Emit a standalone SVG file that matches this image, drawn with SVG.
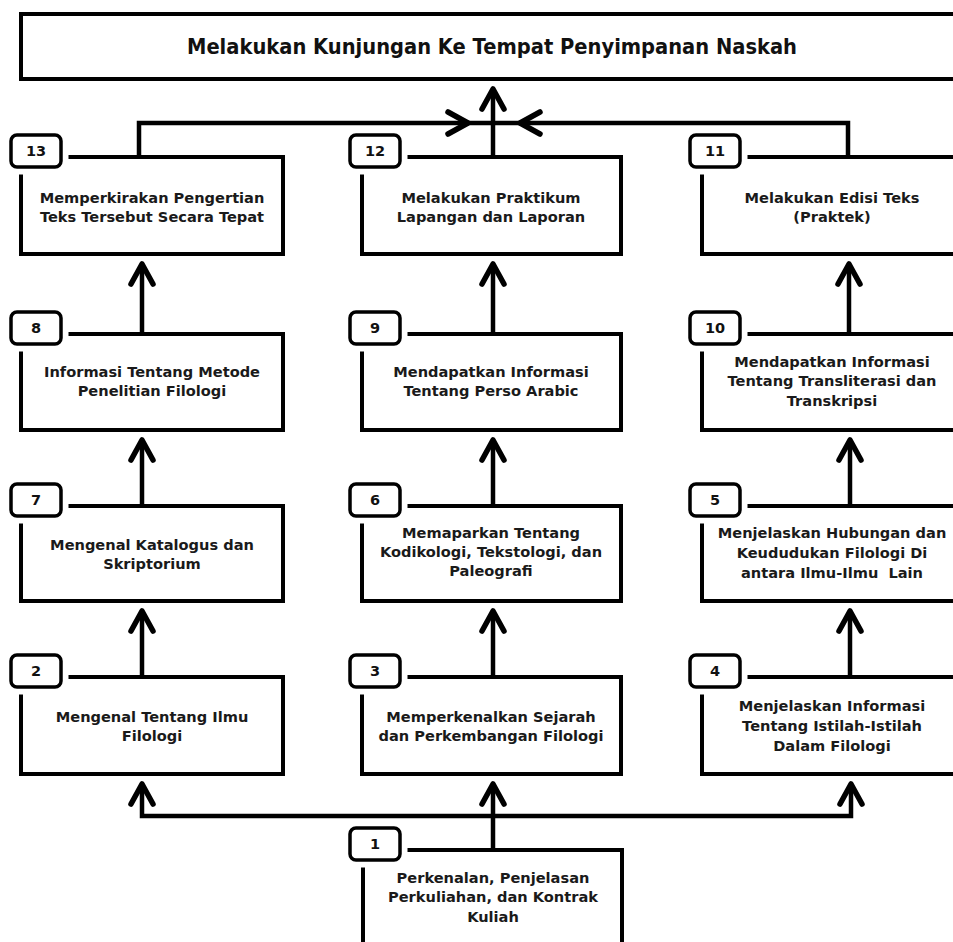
<svg xmlns="http://www.w3.org/2000/svg" width="953" height="942" viewBox="0 0 953 942">
<style>
  .box{fill:#fff;stroke:#000;stroke-width:4}
  .halo{fill:#fff;stroke:#fff;stroke-width:15}
  .badge{fill:#fff;stroke:#000;stroke-width:3.5}
  .t{font-family:"DejaVu Sans",Verdana,sans-serif;font-weight:bold;font-size:14.6px;fill:#1a1a1a;text-anchor:middle;white-space:pre}
  .n{font-family:"DejaVu Sans",Verdana,sans-serif;font-weight:bold;font-size:14.5px;fill:#111;text-anchor:middle}
  .title{font-family:"DejaVu Sans",Verdana,sans-serif;font-weight:bold;font-size:21px;fill:#111;text-anchor:middle}
  .c{fill:none;stroke:#000;stroke-width:4.5}
</style>
<defs>
  <marker id="chev" markerUnits="userSpaceOnUse" viewBox="-26 -15 30 30" markerWidth="30" markerHeight="30" refX="0" refY="0" orient="auto" overflow="visible">
    <path d="M-20,-11 L0,0 L-20,11" fill="none" stroke="#000" stroke-width="5.5" stroke-linecap="round" stroke-linejoin="round"/>
  </marker>
</defs>

<g id="title">
  <rect class="box" x="21" y="14" width="1000" height="65"/>
  <text class="title" x="492" y="54" textLength="610" lengthAdjust="spacingAndGlyphs">Melakukan Kunjungan Ke Tempat Penyimpanan Naskah</text>
</g>

<g id="connectors">
  <path class="c" d="M139,156 V123 H468" marker-end="url(#chev)"/>
  <path class="c" d="M848,156 V123 H520" marker-end="url(#chev)"/>
  <path class="c" d="M468,123 H520"/>
  <path class="c" d="M493,156 V89" marker-end="url(#chev)"/>

  <path class="c" d="M142,333 V264" marker-end="url(#chev)"/>
  <path class="c" d="M493,333 V264" marker-end="url(#chev)"/>
  <path class="c" d="M849,333 V264" marker-end="url(#chev)"/>

  <path class="c" d="M142,505 V440" marker-end="url(#chev)"/>
  <path class="c" d="M493,505 V440" marker-end="url(#chev)"/>
  <path class="c" d="M850,505 V440" marker-end="url(#chev)"/>

  <path class="c" d="M142,676 V611" marker-end="url(#chev)"/>
  <path class="c" d="M493,676 V611" marker-end="url(#chev)"/>
  <path class="c" d="M850,676 V611" marker-end="url(#chev)"/>

  <path class="c" d="M493,816 H142 V784" marker-end="url(#chev)"/>
  <path class="c" d="M493,816 H851 V784" marker-end="url(#chev)"/>
  <path class="c" d="M493,849 V784" marker-end="url(#chev)"/>
</g>

<!-- Row 1 -->
<g id="n13">
  <rect class="box" x="21" y="157" width="262" height="97"/>
  <rect class="halo" x="11" y="135" width="50" height="32" rx="6"/>
  <rect class="badge" x="11" y="135" width="50" height="32" rx="6"/>
  <text class="n" x="36" y="156">13</text>
  <text class="t" x="152" y="203">Memperkirakan Pengertian</text>
  <text class="t" x="152" y="222">Teks Tersebut Secara Tepat</text>
</g>
<g id="n12">
  <rect class="box" x="362" y="157" width="259" height="97"/>
  <rect class="halo" x="350" y="135" width="50" height="32" rx="6"/>
  <rect class="badge" x="350" y="135" width="50" height="32" rx="6"/>
  <text class="n" x="375" y="156">12</text>
  <text class="t" x="491" y="203">Melakukan Praktikum</text>
  <text class="t" x="491" y="222">Lapangan dan Laporan</text>
</g>
<g id="n11">
  <rect class="box" x="702" y="157" width="300" height="97"/>
  <rect class="halo" x="690" y="135" width="50" height="32" rx="6"/>
  <rect class="badge" x="690" y="135" width="50" height="32" rx="6"/>
  <text class="n" x="715" y="156">11</text>
  <text class="t" x="832" y="203">Melakukan Edisi Teks</text>
  <text class="t" x="832" y="222">(Praktek)</text>
</g>

<!-- Row 2 -->
<g id="n8">
  <rect class="box" x="21" y="334" width="262" height="96"/>
  <rect class="halo" x="11" y="312" width="50" height="32" rx="6"/>
  <rect class="badge" x="11" y="312" width="50" height="32" rx="6"/>
  <text class="n" x="36" y="333">8</text>
  <text class="t" x="152" y="377">Informasi Tentang Metode</text>
  <text class="t" x="152" y="396">Penelitian Filologi</text>
</g>
<g id="n9">
  <rect class="box" x="362" y="334" width="259" height="96"/>
  <rect class="halo" x="350" y="312" width="50" height="32" rx="6"/>
  <rect class="badge" x="350" y="312" width="50" height="32" rx="6"/>
  <text class="n" x="375" y="333">9</text>
  <text class="t" x="491" y="377">Mendapatkan Informasi</text>
  <text class="t" x="491" y="396">Tentang Perso Arabic</text>
</g>
<g id="n10">
  <rect class="box" x="702" y="334" width="300" height="96"/>
  <rect class="halo" x="690" y="312" width="50" height="32" rx="6"/>
  <rect class="badge" x="690" y="312" width="50" height="32" rx="6"/>
  <text class="n" x="715" y="333">10</text>
  <text class="t" x="832" y="367">Mendapatkan Informasi</text>
  <text class="t" x="832" y="386">Tentang Transliterasi dan</text>
  <text class="t" x="832" y="406">Transkripsi</text>
</g>

<!-- Row 3 -->
<g id="n7">
  <rect class="box" x="21" y="506" width="262" height="95"/>
  <rect class="halo" x="11" y="484" width="50" height="32" rx="6"/>
  <rect class="badge" x="11" y="484" width="50" height="32" rx="6"/>
  <text class="n" x="36" y="505">7</text>
  <text class="t" x="152" y="550">Mengenal Katalogus dan</text>
  <text class="t" x="152" y="569">Skriptorium</text>
</g>
<g id="n6">
  <rect class="box" x="362" y="506" width="259" height="95"/>
  <rect class="halo" x="350" y="484" width="50" height="32" rx="6"/>
  <rect class="badge" x="350" y="484" width="50" height="32" rx="6"/>
  <text class="n" x="375" y="505">6</text>
  <text class="t" x="491" y="538">Memaparkan Tentang</text>
  <text class="t" x="491" y="557">Kodikologi, Tekstologi, dan</text>
  <text class="t" x="491" y="576">Paleografi</text>
</g>
<g id="n5">
  <rect class="box" x="702" y="506" width="300" height="95"/>
  <rect class="halo" x="690" y="484" width="50" height="32" rx="6"/>
  <rect class="badge" x="690" y="484" width="50" height="32" rx="6"/>
  <text class="n" x="715" y="505">5</text>
  <text class="t" x="832" y="538">Menjelaskan Hubungan dan</text>
  <text class="t" x="832" y="558">Keududukan Filologi Di</text>
  <text class="t" x="832" y="578" xml:space="preserve">antara Ilmu-Ilmu  Lain</text>
</g>

<!-- Row 4 -->
<g id="n2">
  <rect class="box" x="21" y="677" width="262" height="97"/>
  <rect class="halo" x="11" y="655" width="50" height="32" rx="6"/>
  <rect class="badge" x="11" y="655" width="50" height="32" rx="6"/>
  <text class="n" x="36" y="676">2</text>
  <text class="t" x="152" y="722">Mengenal Tentang Ilmu</text>
  <text class="t" x="152" y="741">Filologi</text>
</g>
<g id="n3">
  <rect class="box" x="362" y="677" width="259" height="97"/>
  <rect class="halo" x="350" y="655" width="50" height="32" rx="6"/>
  <rect class="badge" x="350" y="655" width="50" height="32" rx="6"/>
  <text class="n" x="375" y="676">3</text>
  <text class="t" x="491" y="722">Memperkenalkan Sejarah</text>
  <text class="t" x="491" y="741">dan Perkembangan Filologi</text>
</g>
<g id="n4">
  <rect class="box" x="702" y="677" width="300" height="97"/>
  <rect class="halo" x="690" y="655" width="50" height="32" rx="6"/>
  <rect class="badge" x="690" y="655" width="50" height="32" rx="6"/>
  <text class="n" x="715" y="676">4</text>
  <text class="t" x="832" y="711">Menjelaskan Informasi</text>
  <text class="t" x="832" y="731">Tentang Istilah-Istilah</text>
  <text class="t" x="832" y="751">Dalam Filologi</text>
</g>

<!-- Row 5 -->
<g id="n1">
  <rect class="box" x="363" y="850" width="259" height="120"/>
  <rect class="halo" x="350" y="828" width="50" height="32" rx="6"/>
  <rect class="badge" x="350" y="828" width="50" height="32" rx="6"/>
  <text class="n" x="375" y="849">1</text>
  <text class="t" x="493" y="883">Perkenalan, Penjelasan</text>
  <text class="t" x="493" y="902">Perkuliahan, dan Kontrak</text>
  <text class="t" x="493" y="922">Kuliah</text>
</g>
</svg>
